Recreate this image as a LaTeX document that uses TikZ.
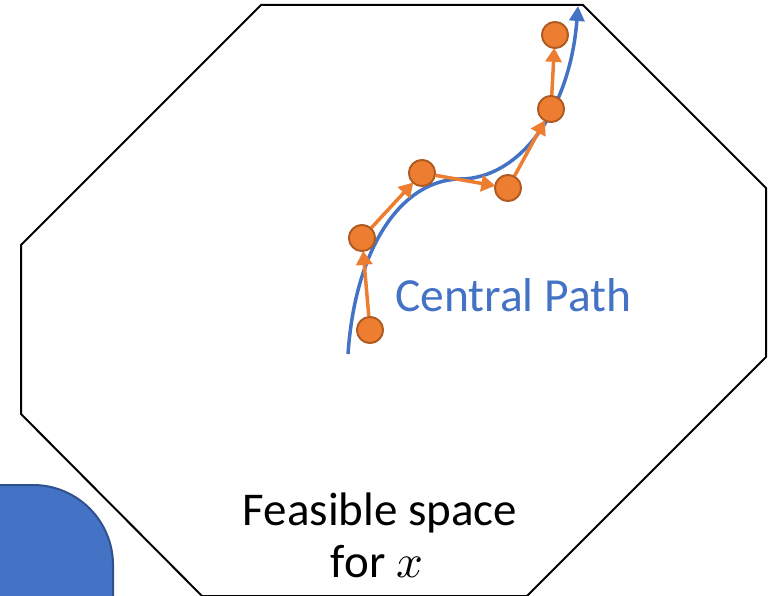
\documentclass[tikz,border=0pt]{standalone}
\usepackage{fontspec}
\usepackage{unicode-math}
\setmainfont{Carlito}
\setmathfont{Latin Modern Math}
\usetikzlibrary{arrows.meta}
\definecolor{pathblue}{HTML}{4472C4}
\definecolor{boxedge}{HTML}{2F528F}
\definecolor{dotorange}{HTML}{ED7D31}
\definecolor{dotedge}{HTML}{AE5A21}
\tikzset{
  dot/.style={circle, fill=dotorange, draw=dotedge, line width=1.8pt, minimum size=26pt, inner sep=0pt},
  stepar/.style={draw=dotorange, line width=3.5pt, -{Triangle[length=14pt,width=16pt]}, shorten >=-1pt},
  central/.style={draw=pathblue, line width=3.5pt, -{Triangle[length=15pt,width=15pt]}},
  feas/.style={draw=black, line width=2pt, line join=miter},
}
\begin{document}
\begin{tikzpicture}[x=1pt,y=-1pt]
\useasboundingbox (0,0) rectangle (780,596);
\begin{scope}
\clip (0,0) rectangle (780,596);
% feasible region (octagon)
\coordinate (o1) at (261,5);
\coordinate (o2) at (583,5);
\coordinate (o3) at (766,188);
\coordinate (o4) at (766,357);
\coordinate (o5) at (527,596);
\coordinate (o6) at (202,596);
\coordinate (o7) at (21,414);
\coordinate (o8) at (21,245);
\draw[feas] (o1) -- (o2) -- (o3) -- (o4) -- (o5) -- (o6) -- (o7) -- (o8) -- cycle;
% blue rounded shape
\draw[fill=pathblue, draw=boxedge, line width=2pt, rounded corners=80pt] (-120,485) rectangle (113,720);
\end{scope}
% central path
\coordinate (c0) at (348,354);
\coordinate (c1) at (460,179);
\coordinate (c2) at (578,6);
\draw[central] (c0) .. controls (355,250) and (400,180) .. (c1) .. controls (520,179) and (570,110) .. (c2);
% iterates
\node[dot] (p1) at (370,330) {};
\node[dot] (p2) at (362,238) {};
\node[dot] (p3) at (422,173) {};
\node[dot] (p4) at (508,188) {};
\node[dot] (p5) at (551,109) {};
\node[dot] (p6) at (555,35) {};
\draw[stepar] (p1) -- (p2);
\draw[stepar] (p2) -- (p3);
\draw[stepar] (p3) -- (p4);
\draw[stepar] (p4) -- (p5);
\draw[stepar] (p5) -- (p6);
\node[dot] at (p1) {};
\node[dot] at (p2) {};
\node[dot] at (p3) {};
\node[dot] at (p4) {};
\node[dot] at (p5) {};
\node[dot] at (p6) {};
% labels
\node[anchor=base west, inner sep=0pt, text=pathblue, font=\fontsize{47.5}{57}\selectfont] (lbl) at (395,312) {Central Path};
\node[anchor=base, inner sep=0pt, font=\fontsize{47}{56}\selectfont] (fs1) at (380,525) {Feasible space};
\node[anchor=base, inner sep=0pt, font=\fontsize{47}{56}\selectfont] (fs2) at (377,577) {for $x$};
\end{tikzpicture}
\end{document}
